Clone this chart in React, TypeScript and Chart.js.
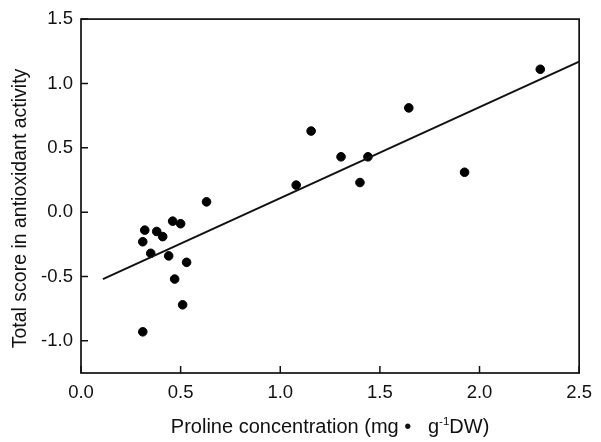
import React, { useEffect, useRef } from "react";
import { Chart, registerables } from "chart.js";

Chart.register(...registerables);

const prolineX = [0.63, 0.46, 0.50, 0.32, 0.38, 0.41, 0.31, 0.35, 0.44, 0.53, 0.47, 0.51, 0.31, 1.08, 1.155, 1.305, 1.44, 1.40, 1.645, 1.925, 2.305];
const scoreY = [0.08, -0.07, -0.09, -0.14, -0.15, -0.19, -0.23, -0.32, -0.34, -0.39, -0.52, -0.72, -0.93, 0.21, 0.63, 0.43, 0.43, 0.23, 0.81, 0.31, 1.11];
const fitRangeX = [0.11, 2.5];
const fitIntercept = -0.598;
const fitSlope = 0.707;
const xTicks = [0, 0.5, 1.0, 1.5, 2.0, 2.5];
const yTicks = [-1.0, -0.5, 0.0, 0.5, 1.0, 1.5];

const FONT = "'Liberation Sans', Arial, sans-serif";
const INK = "#111111";

const framePlugin = {
  id: "frameAndTitles",
  afterDraw(chart: any) {
    const { ctx, chartArea } = chart;
    const { left, right, top, bottom } = chartArea;
    const xs = chart.scales.x;
    const ys = chart.scales.y;
    ctx.save();
    ctx.strokeStyle = INK;
    ctx.lineWidth = 1.7;
    ctx.strokeRect(left, top, right - left, bottom - top);
    ctx.lineWidth = 1.5;
    ctx.beginPath();
    xTicks.forEach((v) => {
      const px = xs.getPixelForValue(v);
      ctx.moveTo(px, bottom);
      ctx.lineTo(px, bottom - 7);
    });
    yTicks.forEach((v) => {
      const py = ys.getPixelForValue(v);
      ctx.moveTo(left, py);
      ctx.lineTo(left + 7, py);
    });
    ctx.stroke();

    // y title
    ctx.fillStyle = INK;
    ctx.save();
    ctx.translate(26, 208.5);
    ctx.rotate(-Math.PI / 2);
    ctx.font = `19.5px ${FONT}`;
    ctx.textAlign = "center";
    ctx.textBaseline = "alphabetic";
    ctx.fillText("Total score in antioxidant activity", 0, 0);
    ctx.restore();

    // x title with superscript
    const part1 = "Proline concentration (mg \u2022   g";
    const sup = "-1";
    const part2 = "DW)";
    ctx.textBaseline = "alphabetic";
    ctx.textAlign = "left";
    ctx.font = `20px ${FONT}`;
    const w1 = ctx.measureText(part1).width;
    const w3 = ctx.measureText(part2).width;
    ctx.font = `11.5px ${FONT}`;
    const w2 = ctx.measureText(sup).width;
    const total = w1 + w2 + w3;
    const cx = (left + right) / 2;
    let x0 = cx - total / 2;
    const base = 433;
    ctx.font = `20px ${FONT}`;
    ctx.fillText(part1, x0, base);
    x0 += w1;
    ctx.font = `11.5px ${FONT}`;
    ctx.fillText(sup, x0, base - 8.5);
    x0 += w2;
    ctx.font = `20px ${FONT}`;
    ctx.fillText(part2, x0, base);
    ctx.restore();
  },
};

export default function App() {
  const ref = useRef<HTMLCanvasElement | null>(null);
  useEffect(() => {
    document.body.style.margin = "0";
    if (!ref.current) return;
    const points = prolineX.map((x, i) => ({ x, y: scoreY[i] }));
    const fit = fitRangeX.map((x) => ({ x, y: fitIntercept + fitSlope * x }));
    const chart = new Chart(ref.current, {
      type: "scatter",
      data: {
        datasets: [
          {
            type: "line",
            data: fit,
            borderColor: INK,
            borderWidth: 2,
            pointRadius: 0,
            fill: false,
          } as any,
          {
            data: points,
            backgroundColor: "#000000",
            borderColor: "#000000",
            pointRadius: 4.3,
            pointHoverRadius: 4.3,
          },
        ],
      },
      options: {
        responsive: false,
        animation: false,
        events: [],
        layout: { padding: { left: 0, top: 17, right: 17, bottom: 0 } },
        plugins: { legend: { display: false }, tooltip: { enabled: false } },
        scales: {
          x: {
            type: "linear",
            min: 0,
            max: 2.5,
            border: { display: false },
            grid: { display: false, drawTicks: false },
            ticks: {
              stepSize: 0.5,
              padding: 9,
              color: INK,
              font: { family: FONT, size: 18.5 },
              callback: (v: any) => Number(v).toFixed(1),
            },
            afterFit: (s: any) => {
              s.height = 69;
            },
          },
          y: {
            type: "linear",
            min: -1.25,
            max: 1.5,
            border: { display: false },
            grid: { display: false, drawTicks: false },
            ticks: {
              stepSize: 0.5,
              includeBounds: false,
              padding: 8,
              color: INK,
              font: { family: FONT, size: 18.5 },
              callback: (v: any) => Number(v).toFixed(1),
            },
            afterFit: (s: any) => {
              s.width = 81;
            },
          },
        },
      },
      plugins: [framePlugin],
    });
    return () => chart.destroy();
  }, []);
  return (
    <div style={{ width: 601, height: 442, background: "#fff" }}>
      <canvas ref={ref} width={601} height={442} />
    </div>
  );
}
